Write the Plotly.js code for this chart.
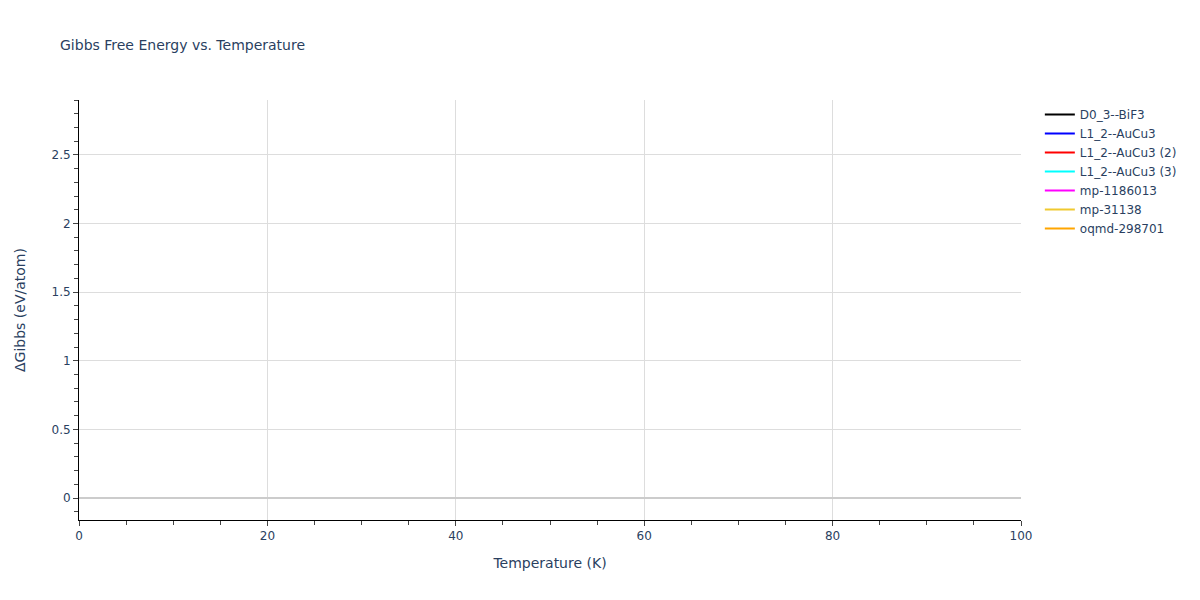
<!DOCTYPE html>
<html>
<head>
<meta charset="utf-8">
<script src="https://cdn.plot.ly/plotly-3.0.1.min.js"></script>
<style>
  body { margin: 0; }
  #chart { width: 1200px; height: 600px; }
</style>
</head>
<body>
<div id="chart"></div>
<script>
// phase names and line colours, in legend order
const phases = [
  'D0_3--BiF3',
  'L1_2--AuCu3',
  'L1_2--AuCu3 (2)',
  'L1_2--AuCu3 (3)',
  'mp-1186013',
  'mp-31138',
  'oqmd-298701',
];
const phaseColors = ['black', 'blue', 'red', 'cyan', 'magenta', '#f0c930', 'orange'];

// no curve shows inside the plotted window: each series holds only a missing value
const temperature = [0];
const gibbsD03 = [null];
const gibbsL12 = [null];
const gibbsL12b = [null];
const gibbsL12c = [null];
const gibbsMp1186013 = [null];
const gibbsMp31138 = [null];
const gibbsOqmd = [null];

const seriesValues = [gibbsD03, gibbsL12, gibbsL12b, gibbsL12c, gibbsMp1186013, gibbsMp31138, gibbsOqmd];

const data = phases.map((name, i) => ({
  x: temperature,
  y: seriesValues[i],
  name: name,
  type: 'scatter',
  mode: 'lines',
  line: { color: phaseColors[i], width: 2 },
}));

const axisStyle = {
  showline: true,
  linecolor: 'black',
  linewidth: 1,
  ticks: 'outside',
  tickcolor: '#444',
  ticklen: 5,
  gridcolor: '#dddddd',
  zeroline: false,
  tickfont: { size: 12, color: '#2a3f5f' },
};

const layout = {
  width: 1200,
  height: 600,
  paper_bgcolor: 'white',
  plot_bgcolor: 'white',
  font: { family: 'verdana, "DejaVu Sans", arial, sans-serif', color: '#2a3f5f' },
  title: {
    text: 'Gibbs Free Energy vs. Temperature',
    font: { size: 14 },
    x: 0.05,
    xanchor: 'left',
    y: 0.925,
    yanchor: 'middle',
  },
  margin: { l: 79, r: 179, t: 100, b: 80 },
  showlegend: true,
  legend: { x: 1.02, y: 1, font: { size: 12 } },
  xaxis: Object.assign({}, axisStyle, {
    title: { text: 'Temperature (K)', font: { size: 14 }, standoff: 15 },
    range: [0, 100],
    dtick: 20,
    minor: { dtick: 5, ticks: 'outside', ticklen: 4, tickcolor: '#444', showgrid: false },
  }),
  yaxis: Object.assign({}, axisStyle, {
    title: { text: 'ΔGibbs (eV/atom)', font: { size: 14 }, standoff: 22 },
    range: [-0.16, 2.9],
    dtick: 0.5,
    zeroline: true,
    zerolinecolor: '#cccccc',
    zerolinewidth: 2,
    minor: { dtick: 0.1, ticks: 'outside', ticklen: 4, tickcolor: '#444', showgrid: false },
  }),
};

Plotly.newPlot('chart', data, layout, { displayModeBar: false });
</script>
</body>
</html>
